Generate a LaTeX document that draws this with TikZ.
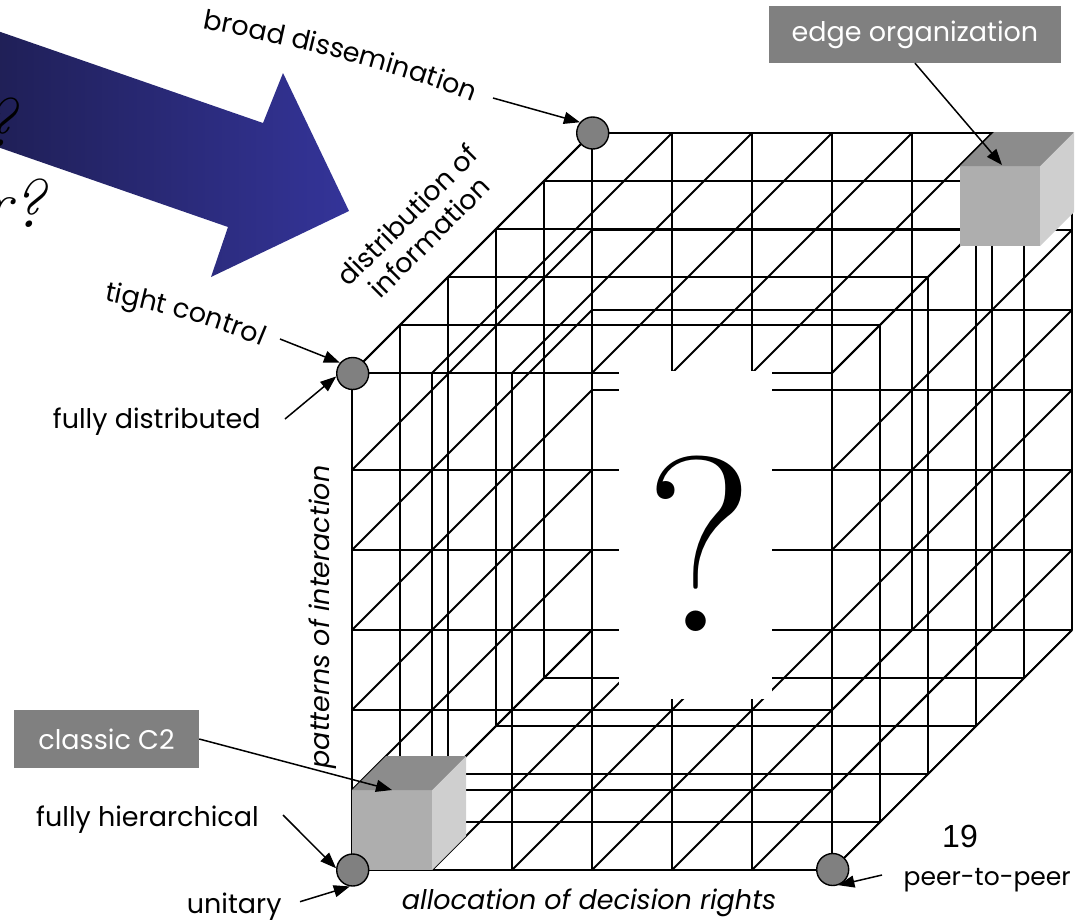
\documentclass[tikz,border=0pt]{standalone}
\usepackage{fontspec}
\newfontfamily\lab{Poppins}
\newfontfamily\arialf{Liberation Sans}
\usetikzlibrary{arrows.meta,decorations.text}
\definecolor{boxgray}{HTML}{808080}
\definecolor{dotgray}{HTML}{808080}
\definecolor{cubefront}{HTML}{AEAEAE}
\definecolor{cubetop}{HTML}{8C8C8C}
\definecolor{cubeside}{HTML}{CFCFCF}
\definecolor{navydark}{HTML}{1C1C4C}
\definecolor{navylight}{HTML}{343499}
\newcommand\labfont{\lab\fontsize{27}{31}\selectfont}
\newcommand\greycube[2]{%
  \fill[cubefront] (#1,#2) rectangle ++(80,80);
  \fill[cubetop] (#1,#2) -- ++(34,-34) -- ++(80,0) -- ++(-34,34) -- cycle;
  \fill[cubeside] ({#1+80},#2) -- ++(34,-34) -- ++(0,80) -- ++(-34,34) -- cycle;
}
\begin{document}
\begin{tikzpicture}[x=1pt,y=-1pt,
  gridline/.style={line width=1.8pt, black},
  dot/.style={circle, draw=black, line width=1.4pt, fill=dotgray, minimum size=32pt, inner sep=0pt},
  lbl/.style={font=\labfont, inner sep=0pt},
  callout/.style={fill=boxgray, text=white, font=\labfont, inner sep=0pt},
  pointer/.style={-{Triangle[length=16pt,width=12pt]}, line width=1.5pt, black}]
\useasboundingbox (0,0) rectangle (1079,919);
\clip (0,0) rectangle (1079,919);

% big blue arrow
\shade[left color=navydark, right color=navylight]
  (-60,11) -- (263,123) -- (283,73) -- (349,211) -- (211,277) -- (228,227) -- (-60,127) -- cycle;
\node[font=\rmfamily\itshape\fontsize{68}{68}\selectfont, anchor=base east, inner sep=0pt] (q1) at (17,146) {?};
\node[font=\rmfamily\itshape\fontsize{68}{68}\selectfont, anchor=base east, inner sep=0pt] (q2) at (46,227) {r?};

% lattice
\begin{scope}[gridline]
\foreach \k in {0,5}{
  \foreach \i in {0,...,6}
    \draw ({352+80*\i+48*\k},{373-48*\k}) -- ({352+80*\i+48*\k},{870-48*\k});
  \foreach \h in {0,80,160,240,320,400,497}
    \draw ({352+48*\k},{870-\h-48*\k}) -- ({832+48*\k},{870-\h-48*\k});
}
\foreach \xo in {0,480}{
  \foreach \k in {1,...,4}
    \draw ({352+\xo+48*\k},{373-48*\k}) -- ({352+\xo+48*\k},{870-48*\k});
  \foreach \h in {0,80,160,240,320,400,497}
    \draw ({352+\xo},{870-\h}) -- ({592+\xo},{630-\h});
}
\foreach \yo in {0,497}{
  \foreach \k in {1,...,4}
    \draw ({352+48*\k},{870-\yo-48*\k}) -- ({832+48*\k},{870-\yo-48*\k});
  \foreach \i in {0,...,6}
    \draw ({352+80*\i},{870-\yo}) -- ({592+80*\i},{630-\yo});
}
\end{scope}

% central question box
\fill[white] (619,371) rectangle (772,699);
\node[font=\rmfamily\fontsize{250}{250}\selectfont, inner sep=0pt] (bigq) at (700,544) {?};

% cubes
\greycube{352}{790}
\greycube{960}{166}

% corner dots
\node[dot] (bd) at (592.7,133) {};
\node[dot] (tc) at (352.7,373.5) {};
\node[dot] (un) at (352.7,870) {};
\node[dot] (pp) at (832.7,869.5) {};

% curved labels
\path[decorate, decoration={text along path, text align=center,
  text={|\labfont|broad dissemination}}]
  (195,27) .. controls (290,45) and (390,68) .. (480,104);
\path[decorate, decoration={text along path, text align=center,
  text={|\labfont|tight control}}]
  (99,299) .. controls (160,311) and (215,326) .. (266,348);
\coordinate (bd-s) at (493,98);
\draw[pointer] (bd-s) -- (bd.140);
\coordinate (tc-s) at (280,339);
\draw[pointer] (tc-s) -- (tc.140);

\node[lbl, rotate=45, align=center] (doi) at (418,226) {distribution of\\information};

\node[lbl, anchor=base west] (fd) at (52.7,428.3) {fully distributed};
\coordinate (fd-s) at (285,419);
\draw[pointer] (fd-s) -- (tc.190);

\node[lbl, font=\labfont\itshape, rotate=90] (poi) at (323,617) {patterns of interaction};

\node[callout, minimum width=185pt, minimum height=58pt] (c2) at (106.5,739) {classic C2};
\coordinate (c2-t) at (392,790);
\draw[pointer] (c2.east) -- (c2-t);

\node[callout, minimum width=292pt, minimum height=57pt] (eo) at (915,34.5) {edge organization};
\coordinate (eo-t) at (1002,165);
\draw[pointer] (eo.south) -- (eo-t);

\node[lbl, anchor=base west] (fh) at (36,826.7) {fully hierarchical};
\coordinate (fh-s) at (283,815);
\draw[pointer] (fh-s) -- (un.174);

\node[lbl, anchor=base west] (ut) at (186.7,913.3) {unitary};
\coordinate (ut-s) at (300,901.7);
\draw[pointer] (ut-s) -- (un.260);

\node[lbl, font=\labfont\itshape, anchor=base west] (adr) at (401.7,909.3) {allocation of decision rights};

\node[font=\arialf\fontsize{32}{32}\selectfont, inner sep=0pt] (n19) at (960,836.7) {19};
\node[lbl, font=\lab\fontsize{25}{29}\selectfont, anchor=base east] (p2p) at (1071,885) {peer-to-peer};
\coordinate (pp-s) at (882,875);
\draw[pointer] (pp-s) -- (pp.290);
\end{tikzpicture}
\end{document}
